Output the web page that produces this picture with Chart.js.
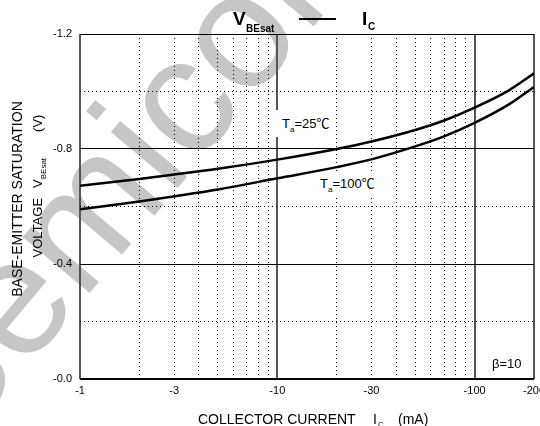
<!DOCTYPE html>
<html>
<head>
<meta charset="utf-8">
<script src="https://cdn.jsdelivr.net/npm/chart.js@4/dist/chart.umd.min.js"></script>
<style>
  body { margin: 0; background: #fff; font-family: "Liberation Sans", Arial, "Noto Sans CJK SC", sans-serif; }
  #wrap { position: relative; width: 540px; height: 426px; overflow: hidden; }
  #mark { position: absolute; left: -154px; top: 367px; font-size: 165px; line-height: 1; color: #c6c6c6;
          transform: rotate(-50deg); transform-origin: 0 0; white-space: nowrap; z-index: 0; }
  canvas { position: absolute; left: 0; top: 0; z-index: 1; }
  .t { position: absolute; z-index: 2; white-space: nowrap; color: #000; line-height: 1; }
  .box { background: #fff; box-sizing: border-box; }
  .rot { transform: translate(-50%, -50%) rotate(-90deg); }
</style>
</head>
<body>
<div id="wrap">
  <div id="mark">Semiconductor</div>
  <canvas id="vbeChart" width="540" height="426"></canvas>

  <!-- title -->
  <div class="t" style="left:233px;top:9px;font-weight:bold;font-size:19px">V</div>
  <div class="t" style="left:246px;top:23.5px;font-weight:bold;font-size:10px">BEsat</div>
  <div class="t" style="left:299px;top:18px;width:37px;height:2px;background:#000"></div>
  <div class="t" style="left:362px;top:8.5px;font-weight:bold;font-size:19px">I</div>
  <div class="t" style="left:368px;top:21.5px;font-weight:bold;font-size:10px">C</div>

  <!-- y axis title -->
  <div class="t rot" style="left:17px;top:199px;font-size:14px">BASE-EMITTER SATURATION</div>
  <div class="t rot" style="left:37px;top:186px;font-size:13px">VOLTAGE<span style="margin-left:10px">V</span><span style="font-size:8px;position:relative;top:4px">BEsat</span><span style="margin-left:26px">(V)</span></div>

  <!-- x axis title -->
  <div class="t" style="left:198px;top:412px;font-size:14px">COLLECTOR CURRENT</div>
  <div class="t" style="left:373px;top:412px;font-size:14px">I</div>
  <div class="t" style="left:378px;top:421px;font-size:8px">C</div>
  <div class="t" style="left:398px;top:412px;font-size:14px">(mA)</div>

  <!-- curve labels -->
  <div class="t box" style="left:271px;top:110px;width:64px;height:27px;padding:7px 0 0 11px;font-size:13px">T<span style="font-size:8px;position:relative;top:4px">a</span>=25℃</div>
  <div class="t box" style="left:317px;top:174px;width:64px;height:21px;padding:3px 0 0 3px;font-size:13px">T<span style="font-size:8px;position:relative;top:4px">a</span>=100℃</div>
  <div class="t" style="left:492px;top:357px;font-size:13px">β=10</div>
</div>

<script>
// collector current magnitude (mA); the axis shows it as negative values
const currentMA = [1, 2, 3, 5, 10, 20, 30, 50, 70, 100, 150, 200];
const vbeTa25 = [-0.672, -0.696, -0.711, -0.731, -0.763, -0.800, -0.826, -0.866, -0.899, -0.944, -1.005, -1.063];
const vbeTa100 = [-0.590, -0.617, -0.635, -0.659, -0.698, -0.737, -0.764, -0.809, -0.844, -0.891, -0.956, -1.016];

const xTickValues = [1, 2, 3, 4, 5, 6, 7, 8, 9, 10, 20, 30, 40, 50, 60, 70, 80, 90, 100, 200];
const xTickLabels = [1, 3, 10, 30, 100, 200];
const xSolidLines = [1, 10, 100, 200];
const yTickValues = [0, -0.2, -0.4, -0.6, -0.8, -1.0, -1.2];
const yTickLabels = [0, -0.4, -0.8, -1.2];

const toPoints = ys => currentMA.map((c, i) => ({ x: c, y: ys[i] }));
const tickFont = { family: "Liberation Sans", size: 11 };

function isSolidX(c) {
  return c.tick && xSolidLines.includes(c.tick.value);
}
function isSolidY(c) {
  return c.tick && yTickLabels.includes(c.tick.value);
}

const ctx = document.getElementById("vbeChart").getContext("2d");

const chart = new Chart(ctx, {
  type: "line",
  data: {
    datasets: [
      { label: "Ta=25", data: toPoints(vbeTa25) },
      { label: "Ta=100", data: toPoints(vbeTa100) }
    ]
  },
  options: {
    responsive: false,
    animation: false,
    layout: { autoPadding: false, padding: { top: 34, right: 6, bottom: 0, left: 0 } },
    elements: {
      point: { radius: 0 },
      line: { borderColor: "#000", borderWidth: 2.5, cubicInterpolationMode: "monotone" }
    },
    plugins: { legend: { display: false }, tooltip: { enabled: false } },
    scales: {
      x: {
        type: "logarithmic",
        min: 1,
        max: 200,
        afterBuildTicks: s => { s.ticks = xTickValues.map(v => ({ value: v })); },
        afterFit: s => { s.height = 47; s.paddingLeft = 0; s.paddingRight = 0; },
        ticks: {
          autoSkip: false, maxRotation: 0, padding: 5, color: "#000", font: tickFont,
          callback: v => xTickLabels.includes(v) ? "-" + v : ""
        },
        grid: {
          drawTicks: false,
          color: c => isSolidX(c) ? "#555" : "#000",
          lineWidth: c => isSolidX(c) ? 2 : 1
        },
        border: { display: false, dash: c => (c.type === "tick" && !isSolidX(c)) ? [1, 3] : [] }
      },
      y: {
        min: -1.2,
        max: 0,
        reverse: true,
        afterBuildTicks: s => { s.ticks = yTickValues.map(v => ({ value: v })); },
        afterFit: s => { s.width = 80; s.paddingTop = 0; s.paddingBottom = 0; },
        ticks: {
          padding: 8, color: "#000", font: tickFont,
          callback: v => yTickLabels.includes(v) ? (v === 0 ? "-0.0" : v.toFixed(1)) : ""
        },
        grid: {
          drawTicks: false,
          color: "#000",
          lineWidth: c => (c.tick && c.tick.value === 0) ? 2 : 1
        },
        border: { display: false, dash: c => (c.type === "tick" && !isSolidY(c)) ? [1, 3] : [] }
      }
    }
  }
});
</script>
</body>
</html>
